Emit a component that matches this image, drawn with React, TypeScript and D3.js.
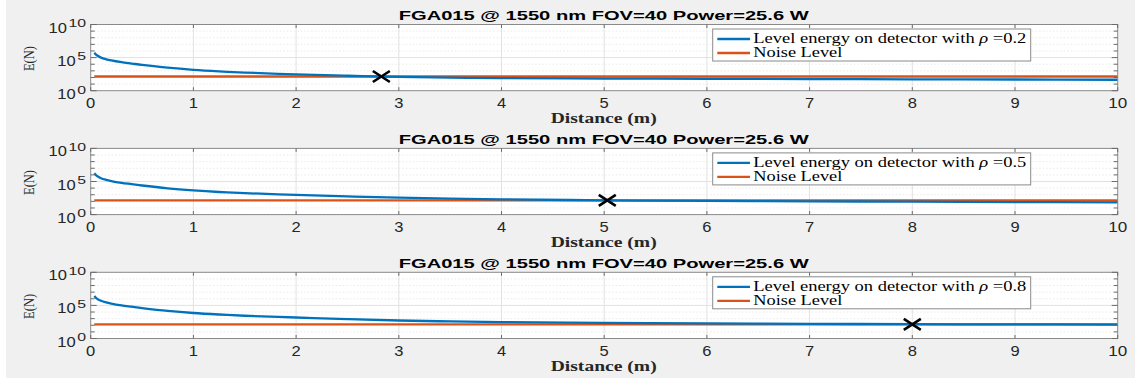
import React from 'react';
import * as d3 from 'd3';

// distance samples (m)
const distance = [0.035, 0.06, 0.1, 0.15, 0.2, 0.3, 0.4, 0.5, 0.75, 1, 1.25, 1.5, 2, 2.5, 3, 3.5, 4, 5, 6, 7, 8, 9, 10];

// level energy on detector, one array per reflectivity
const energyRho02 = [5.5e5, 2.24e5, 1e5, 5.6e4, 3.7e4, 2e4, 1.26e4, 7.9e3, 2.95e3, 1.41e3, 8.3e2, 5.5e2, 2.95e2, 1.82e2, 1.2e2, 9.3e1, 7.9e1, 6.8e1, 6.2e1, 5.75e1, 5.25e1, 4.9e1, 4.5e1];
const energyRho05 = [1.78e6, 7.1e5, 3.16e5, 1.78e5, 1.17e5, 6.3e4, 4e4, 2.5e4, 9.3e3, 4.5e3, 2.6e3, 1.74e3, 9.5e2, 5.6e2, 3.6e2, 2.6e2, 2.04e2, 1.45e2, 1.15e2, 1e2, 8.9e1, 7.9e1, 7.2e1];
const energyRho08 = [2.6e6, 1.07e6, 5e5, 2.8e5, 1.86e5, 1e5, 6.3e4, 4e4, 1.48e4, 7.1e3, 4.2e3, 2.75e3, 1.48e3, 8.3e2, 5.2e2, 3.8e2, 2.95e2, 2.3e2, 1.9e2, 1.66e2, 1.45e2, 1.35e2, 1.29e2];

// noise level (flat)
const noiseDistance = [0.035, 10];
const noiseLevel = [1.4e2, 1.4e2];

const rhoLabels = ['0.2', '0.5', '0.8'];
const crossDistance = [2.83, 5.03, 8];

const xTicks = [0, 1, 2, 3, 4, 5, 6, 7, 8, 9, 10];
const yMajorTicks = [1, 1e5, 1e10];
const yExponents = ['0', '5', '10'];
const yMinorTicks = [1e1, 1e2, 1e3, 1e4, 1e6, 1e7, 1e8, 1e9];

const title = 'FGA015 @ 1550 nm FOV=40 Power=25.6 W';

const W = 1135;
const H = 381;
const plotLeft = 90.7;
const plotRight = 1117.7;
const panelTops = [24.5, 148.4, 272.3];
const panelH = 66.2;

const BLUE = '#0072BD';
const ORANGE = '#D95319';
const SANS = '"Liberation Sans", Arial, sans-serif';
const SERIF = '"Liberation Serif", "Times New Roman", serif';

function Panel({ top, energy, rho, cross }: { top: number; energy: number[]; rho: string; cross: number }) {
  const x = d3.scaleLinear().domain([0, 10]).range([plotLeft, plotRight]);
  const y = d3.scaleLog().domain([1, 1e10]).range([top + panelH, top]);
  const bottom = top + panelH;

  const line = d3
    .line<number>()
    .x((_, i) => x(distance[i]))
    .y((d) => y(d))
    .curve(d3.curveCatmullRom.alpha(0.5));

  const noiseLine = d3
    .line<number>()
    .x((_, i) => x(noiseDistance[i]))
    .y((d) => y(d));

  const cx = x(cross);
  const cy = y(noiseLevel[0]);

  const legX = 712.7;
  const legY = top + 4.5;

  return (
    <g>
      <rect x={plotLeft} y={top} width={plotRight - plotLeft} height={panelH} fill="#fff" />

      {/* minor y grid */}
      {yMinorTicks.map((t) => (
        <line key={'mg' + t} x1={plotLeft} x2={plotRight} y1={y(t)} y2={y(t)} stroke="#e4e4e4" strokeWidth={0.8} strokeDasharray="1.5,2" />
      ))}
      <line x1={plotLeft} x2={plotRight} y1={y(1e5)} y2={y(1e5)} stroke="#e2e2e2" strokeWidth={1} />
      {/* x grid */}
      {xTicks.slice(1, -1).map((t) => (
        <line key={'xg' + t} x1={x(t)} x2={x(t)} y1={top} y2={bottom} stroke="#e2e2e2" strokeWidth={1} />
      ))}

      {/* data */}
      <path d={noiseLine(noiseLevel) || ''} fill="none" stroke={ORANGE} strokeWidth={2.3} />
      <path d={line(energy) || ''} fill="none" stroke={BLUE} strokeWidth={2.3} />

      {/* cross marker */}
      <path d={`M${cx - 8.5},${cy - 5.5}L${cx + 8.5},${cy + 5.5}M${cx - 8.5},${cy + 5.5}L${cx + 8.5},${cy - 5.5}`} stroke="#000" strokeWidth={2.6} fill="none" />

      {/* axes box */}
      <rect x={plotLeft} y={top} width={plotRight - plotLeft} height={panelH} fill="none" stroke="#8a8a8a" strokeWidth={1} />

      {/* x ticks */}
      {xTicks.map((t) => (
        <g key={'xt' + t}>
          <line x1={x(t)} x2={x(t)} y1={bottom} y2={bottom - 3.5} stroke="#6a6a6a" />
          <line x1={x(t)} x2={x(t)} y1={top} y2={top + 3.5} stroke="#6a6a6a" />
          <text
            x={x(t)}
            y={bottom + 17.6}
            textAnchor="middle"
            fontFamily={SANS}
            fontSize={14}
            fill="#262626"
            textLength={t === 10 ? 19 : 9.2}
            lengthAdjust="spacingAndGlyphs"
          >
            {t}
          </text>
        </g>
      ))}

      {/* y ticks */}
      {yMinorTicks.map((t) => (
        <g key={'yt' + t}>
          <line x1={plotLeft} x2={plotLeft + 4} y1={y(t)} y2={y(t)} stroke="#6a6a6a" />
          <line x1={plotRight} x2={plotRight - 4} y1={y(t)} y2={y(t)} stroke="#6a6a6a" />
        </g>
      ))}
      {yMajorTicks.map((t, i) => {
        const exp = yExponents[i];
        const supW = exp.length * 8.8;
        const supX = 86 - supW;
        return (
          <g key={'ym' + t}>
            <line x1={plotLeft} x2={plotLeft + 6} y1={y(t)} y2={y(t)} stroke="#6a6a6a" />
            <line x1={plotRight} x2={plotRight - 6} y1={y(t)} y2={y(t)} stroke="#6a6a6a" />
            <text
              x={supX - 1.5}
              y={y(t) + 8}
              textAnchor="end"
              fontFamily={SANS}
              fontSize={14}
              fill="#262626"
              textLength={18.4}
              lengthAdjust="spacingAndGlyphs"
            >
              10
            </text>
            <text
              x={86}
              y={y(t) + 2.8}
              textAnchor="end"
              fontFamily={SANS}
              fontSize={10}
              fill="#262626"
              textLength={supW}
              lengthAdjust="spacingAndGlyphs"
            >
              {exp}
            </text>
          </g>
        );
      })}

      {/* title */}
      <text
        x={(plotLeft + plotRight) / 2 - 0.5}
        y={top - 4.5}
        textAnchor="middle"
        fontFamily={SANS}
        fontWeight="bold"
        fontSize={13}
        fill="#000"
        textLength={410}
        lengthAdjust="spacingAndGlyphs"
      >
        {title}
      </text>

      {/* x label */}
      <text
        x={(plotLeft + plotRight) / 2 - 0.5}
        y={bottom + 32.4}
        textAnchor="middle"
        fontFamily={SERIF}
        fontWeight="bold"
        fontSize={14}
        fill="#262626"
        textLength={106}
        lengthAdjust="spacingAndGlyphs"
      >
        Distance (m)
      </text>

      {/* y label */}
      <text
        transform={`translate(33.5,${top + panelH / 2 + 1}) rotate(-90)`}
        textAnchor="middle"
        fontFamily={SERIF}
        fontSize={14.5}
        fill="#262626"
        textLength={25}
        lengthAdjust="spacingAndGlyphs"
      >
        E(N)
      </text>

      {/* legend */}
      <rect x={legX} y={legY} width={318} height={32} fill="#fff" stroke="#8a8a8a" strokeWidth={1} />
      <line x1={legX + 4.6} x2={legX + 37.3} y1={legY + 10} y2={legY + 10} stroke={BLUE} strokeWidth={2.3} />
      <line x1={legX + 4.6} x2={legX + 37.3} y1={legY + 24} y2={legY + 24} stroke={ORANGE} strokeWidth={2.3} />
      <text
        x={legX + 40.6}
        y={legY + 14.3}
        fontFamily={SERIF}
        fontSize={14}
        fill="#000"
        textLength={273}
        lengthAdjust="spacingAndGlyphs"
      >
        Level energy on detector with <tspan fontStyle="italic">ρ</tspan> =
        {rho}
      </text>
      <text
        x={legX + 40.6}
        y={legY + 28.3}
        fontFamily={SERIF}
        fontSize={14}
        fill="#000"
        textLength={89}
        lengthAdjust="spacingAndGlyphs"
      >
        Noise Level
      </text>
    </g>
  );
}

export default function App() {
  const series = [energyRho02, energyRho05, energyRho08];
  return (
    <svg
      width={W}
      height={H}
      style={{ position: 'absolute', left: 0, top: 0, display: 'block' }}
    >
      <rect x={0} y={0} width={W} height={H} fill="#fff" />
      <rect x={6} y={0} width={W - 6} height={378} fill="#f0f0f0" />
      {panelTops.map((top, i) => (
        <Panel key={i} top={top} energy={series[i]} rho={rhoLabels[i]} cross={crossDistance[i]} />
      ))}
    </svg>
  );
}
